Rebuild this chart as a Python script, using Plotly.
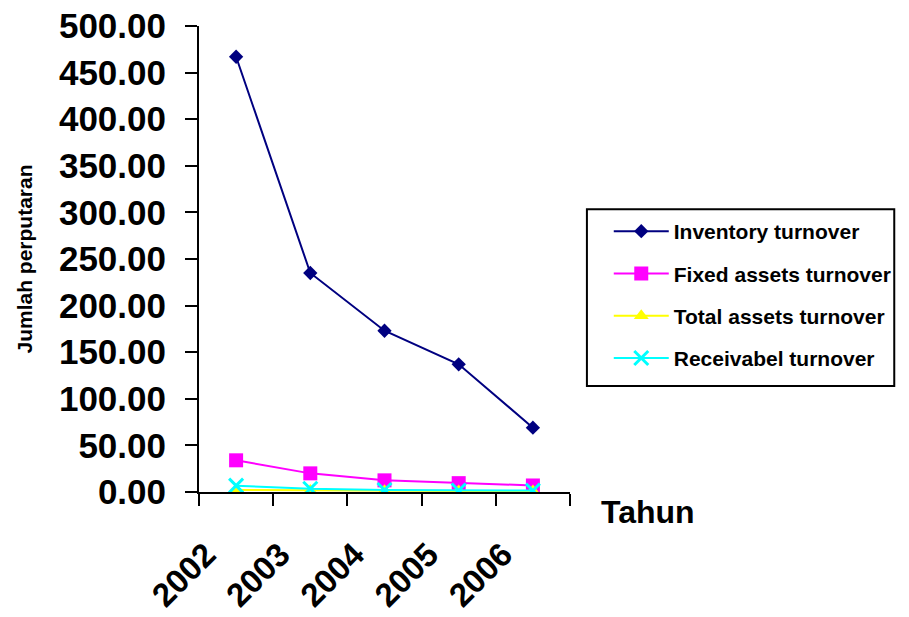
import plotly.graph_objects as go

years = ["2002", "2003", "2004", "2005", "2006"]
inventory = [467.0, 235.0, 173.0, 137.0, 69.0]
fixed_assets = [34.0, 20.0, 12.5, 9.5, 7.0]
total_assets = [2.2, 1.6, 1.4, 1.2, 1.1]
receivable = [6.8, 3.5, 2.2, 1.6, 1.5]

series = [
    ("Inventory turnover", inventory, "#000080", "diamond", 11),
    ("Fixed assets turnover", fixed_assets, "#FF00FF", "square", 14),
    ("Total assets turnover", total_assets, "#FFFF00", "triangle-up", 13),
    ("Receivabel turnover", receivable, "#00FFFF", "x-thin", 14),
]

FONT = "Liberation Sans, Arial, sans-serif"

fig = go.Figure()
for i, (name, vals, color, sym, size) in enumerate(series):
    fig.add_trace(go.Scatter(
        x=years, y=vals, name=name, mode="lines+markers",
        line=dict(color=color, width=2),
        marker=dict(symbol=sym, size=size, color=color,
                    line=dict(color=color, width=3 if sym == "x-thin" else 0)),
        legendgroup=f"g{i}",
    ))

fig.update_layout(
    width=909, height=617,
    margin=dict(l=199, r=337, t=26, b=125),
    paper_bgcolor="white", plot_bgcolor="white",
    font=dict(family=FONT, color="black"),
    showlegend=True,
    legend=dict(
        x=1.1045, y=0.603, xanchor="left", yanchor="top",
        xref="paper", yref="paper",
        borderwidth=0, bgcolor="rgba(0,0,0,0)",
        font=dict(size=21, family=FONT, weight="bold"),
        tracegroupgap=12, itemwidth=55,
    ),
    shapes=[dict(
        type="rect", xref="paper", yref="paper",
        x0=1.0456, x1=1.874, y0=0.2275, y1=0.607,
        line=dict(color="black", width=2), fillcolor="rgba(0,0,0,0)",
    )],
    xaxis=dict(
        type="category", showline=True, linecolor="black", linewidth=2,
        ticks="outside", ticklen=12, tickwidth=2, tickcolor="black",
        tickson="boundaries", showgrid=False, zeroline=False,
        tickangle=-45, automargin=False, ticklabeloverflow="allow",
        ticklabelshift=-30, ticklabelstandoff=28,
        tickfont=dict(size=33, weight="bold"),
        range=[-0.5, 4.5],
    ),
    yaxis=dict(
        range=[0, 500], dtick=50, tickformat=".2f",
        showline=True, linecolor="black", linewidth=2,
        ticks="outside", ticklen=12, tickwidth=2, tickcolor="black",
        showgrid=False, zeroline=False, automargin=False,
        ticklabeloverflow="allow",
        ticklabelstandoff=12,
        tickfont=dict(size=35, weight="bold"),
        title=dict(text="Jumlah perputaran", font=dict(size=21, weight="bold"), standoff=21),
    ),
    annotations=[dict(
        text="Tahun", x=1.077, y=0.0, xref="paper", yref="paper",
        xanchor="left", yanchor="top", showarrow=False,
        font=dict(size=32, weight="bold"),
    )],
)

fig.write_html(
    "out.html",
    config={"displayModeBar": False},
    post_script="document.body.style.margin='0';document.body.style.overflow='hidden';",
)
